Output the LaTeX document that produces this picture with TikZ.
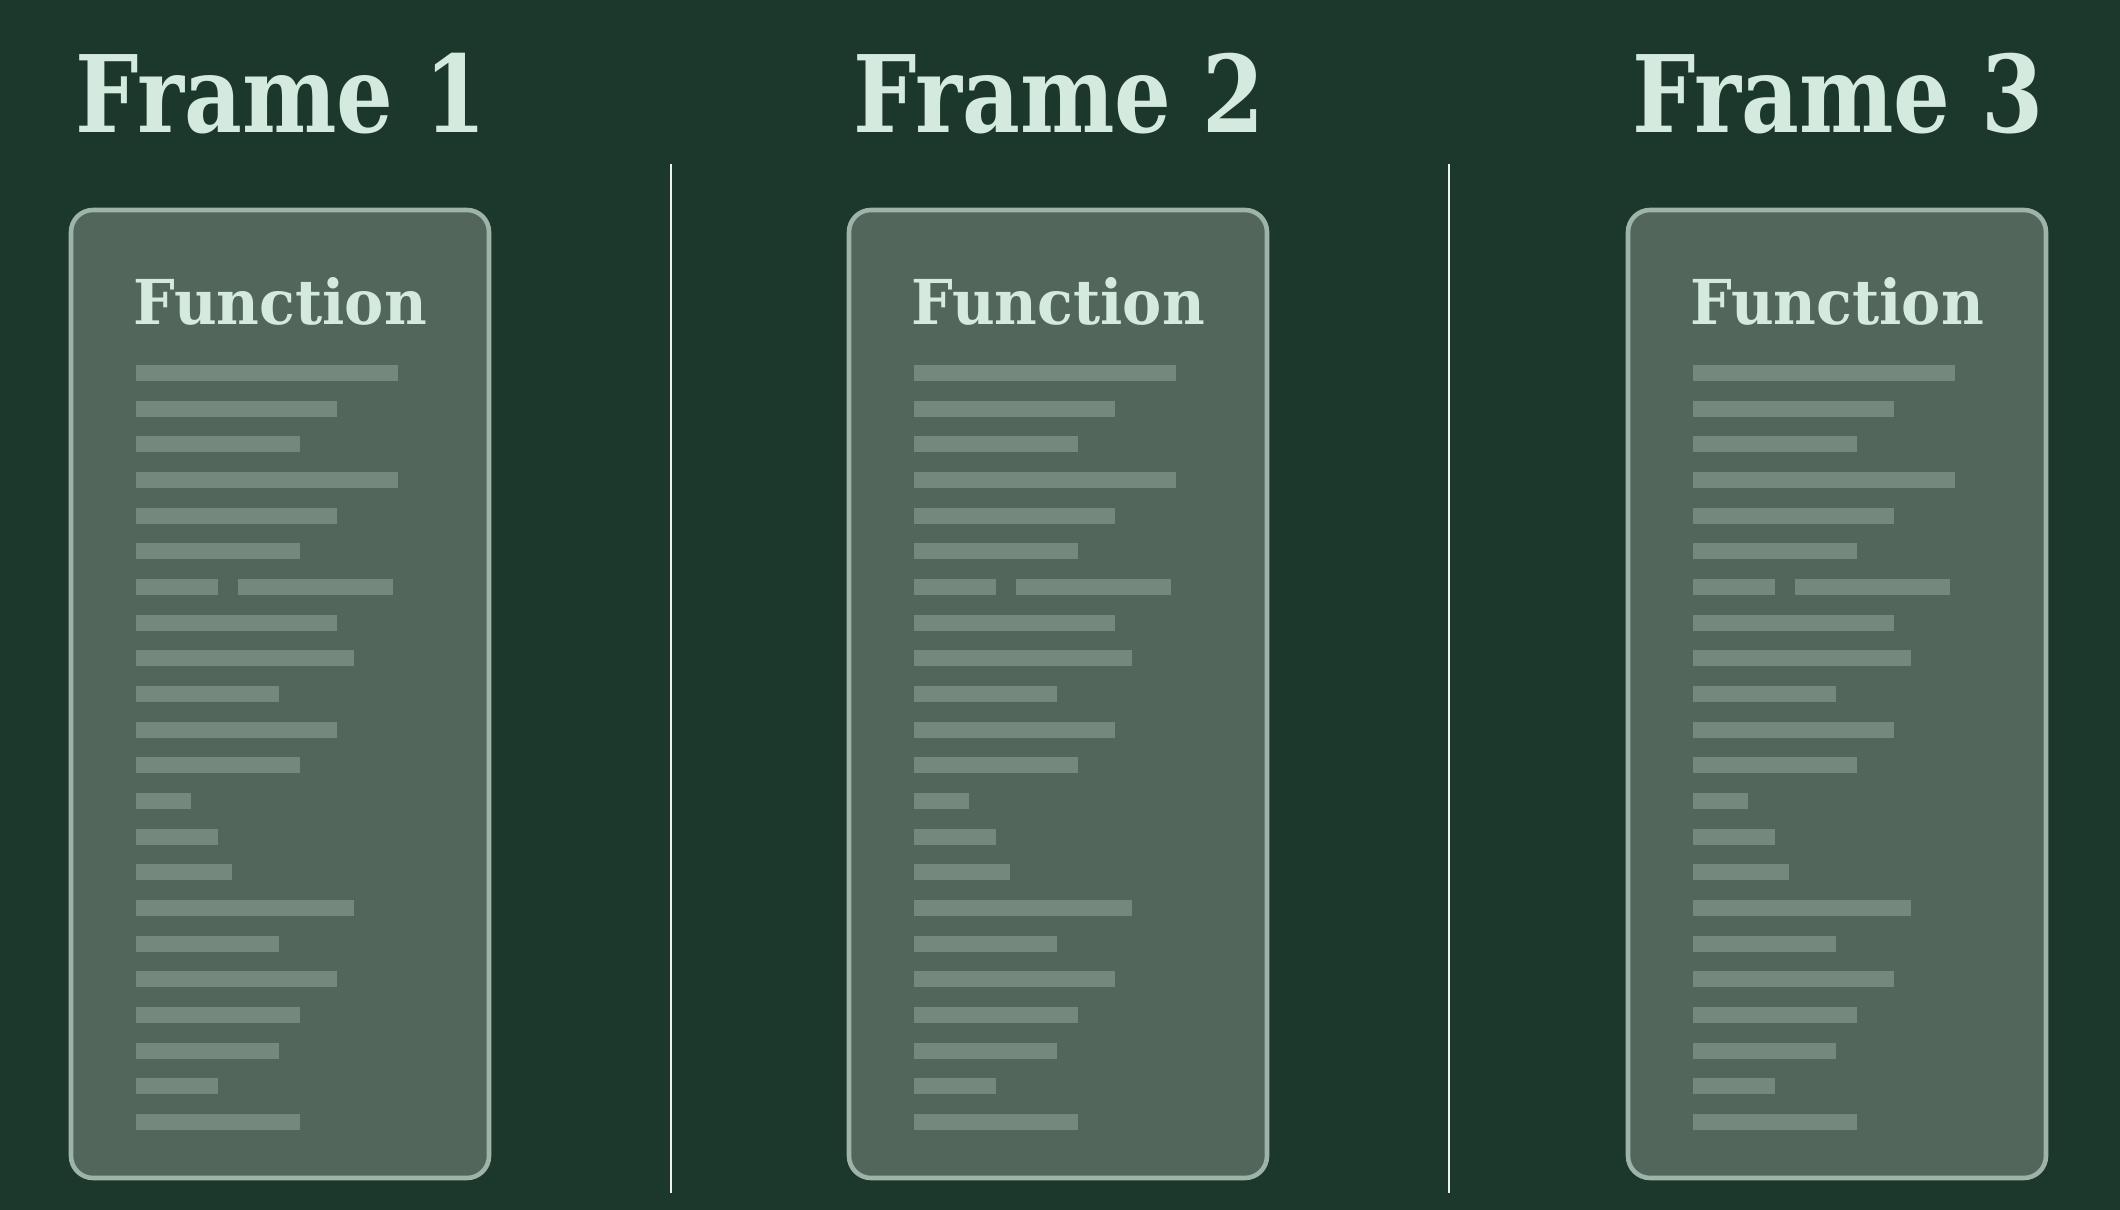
\documentclass[tikz,border=0pt]{standalone}
\usepackage{fontspec}
\usepackage{xcolor}
\usetikzlibrary{positioning}
\newfontfamily\framefont[FakeStretch=0.835]{DejaVu Serif}
\newfontfamily\fnfont[FakeStretch=0.95]{DejaVu Serif}
\definecolor{boardGreen}{HTML}{1C382C}
\definecolor{cardFill}{HTML}{52665C}
\definecolor{cardEdge}{HTML}{9FB4A9}
\definecolor{barGrey}{HTML}{75887E}
\definecolor{mintText}{HTML}{D4EADF}
\definecolor{rulerWhite}{HTML}{EDF3F0}
\tikzset{
  card/.style     = {fill=cardFill, draw=cardEdge, line width=1.3pt, rounded corners=0.22cm},
  codebar/.style  = {fill=barGrey},
  frametitle/.style = {anchor=base, text=mintText, font=\framefont\bfseries\fontsize{30.4}{34}\selectfont},
  fntitle/.style  = {anchor=base, text=mintText, font=\fnfont\bfseries\fontsize{17.6}{20}\selectfont},
  divider/.style  = {draw=rulerWhite, line width=0.8pt}
}

\begin{document}
\begin{tikzpicture}[x=0.01cm, y=-0.01cm]
  % Background
  \fill [boardGreen] (0, 0) rectangle (2120, 1210);

  % Three frames
  \foreach \n/\dx in {1/0, 2/778, 3/1557} {
    \begin{scope}[xshift=\dx*0.01cm]
      \node (title\n) [frametitle] at (281, 133) {Frame \n};
      \draw [card] (71, 210) rectangle (489, 1178);
      \node (fn\n) [fntitle] at (280, 325) {Function};
      % Code lines
      \foreach \w [count=\i] in {262,201,164,262,201,164,82,201,218,143,201,164,55,82,96,218,143,201,164,143,82,164}
        \fill [codebar] (136, {365+35.67*(\i-1)}) rectangle ++(\w, 16);
      \fill [codebar] (238, {365+35.67*6}) rectangle ++(155, 16);
    \end{scope}
  }

  % Dividers
  \coordinate (cutA top) at (671, 164);
  \coordinate (cutA bot) at (671, 1193);
  \coordinate (cutB top) at (1449, 164);
  \coordinate (cutB bot) at (1449, 1193);
  \draw [divider] (cutA top) -- (cutA bot);
  \draw [divider] (cutB top) -- (cutB bot);
\end{tikzpicture}
\end{document}
